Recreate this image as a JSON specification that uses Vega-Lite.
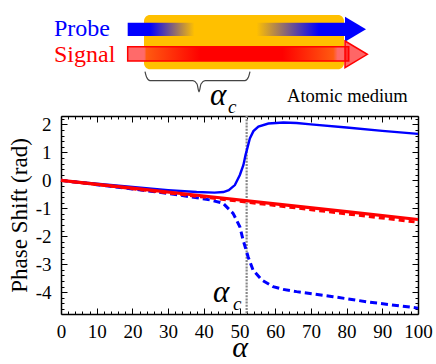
{
  "$schema": "https://vega.github.io/schema/vega-lite/v6.json",
  "width": 357,
  "height": 198,
  "autosize": "none",
  "padding": {"left": 61, "top": 116, "right": 18, "bottom": 50},
  "config": {
    "view": {"stroke": null},
    "font": "Liberation Serif",
    "text": {"font": "Liberation Serif"},
    "axis": {
      "grid": false,
      "domainColor": "black",
      "domainWidth": 1.5,
      "tickColor": "black",
      "tickWidth": 1,
      "labelFont": "Liberation Serif",
      "labelFontSize": 19,
      "labelColor": "black",
      "titleFont": "Liberation Serif",
      "titleColor": "black",
      "titleFontWeight": "normal",
      "labelFlush": false,
      "labelOverlap": false
    }
  },
  "datasets": {
    "curves": [
      {"series": "probe", "alpha": 0, "phase": 0},
      {"series": "probe", "alpha": 10, "phase": -0.12},
      {"series": "probe", "alpha": 20, "phase": -0.24},
      {"series": "probe", "alpha": 30, "phase": -0.35},
      {"series": "probe", "alpha": 38, "phase": -0.42},
      {"series": "probe", "alpha": 43, "phase": -0.44},
      {"series": "probe", "alpha": 45.5, "phase": -0.42},
      {"series": "probe", "alpha": 47, "phase": -0.35},
      {"series": "probe", "alpha": 48.7, "phase": -0.17},
      {"series": "probe", "alpha": 50.1, "phase": 0.19},
      {"series": "probe", "alpha": 51.1, "phase": 0.55},
      {"series": "probe", "alpha": 51.7, "phase": 0.91},
      {"series": "probe", "alpha": 52.2, "phase": 1.15},
      {"series": "probe", "alpha": 52.9, "phase": 1.5},
      {"series": "probe", "alpha": 53.9, "phase": 1.76},
      {"series": "probe", "alpha": 55.3, "phase": 1.92},
      {"series": "probe", "alpha": 58.1, "phase": 2.03},
      {"series": "probe", "alpha": 62.3, "phase": 2.07},
      {"series": "probe", "alpha": 66, "phase": 2.05},
      {"series": "probe", "alpha": 70, "phase": 2.0},
      {"series": "probe", "alpha": 80, "phase": 1.89},
      {"series": "probe", "alpha": 90, "phase": 1.77},
      {"series": "probe", "alpha": 100, "phase": 1.66},
      {"series": "probeDashed", "alpha": 0, "phase": 0},
      {"series": "probeDashed", "alpha": 10, "phase": -0.155},
      {"series": "probeDashed", "alpha": 20, "phase": -0.31},
      {"series": "probeDashed", "alpha": 30, "phase": -0.47},
      {"series": "probeDashed", "alpha": 36.1, "phase": -0.585},
      {"series": "probeDashed", "alpha": 41.7, "phase": -0.7},
      {"series": "probeDashed", "alpha": 45.4, "phase": -0.82},
      {"series": "probeDashed", "alpha": 48.2, "phase": -1.18},
      {"series": "probeDashed", "alpha": 50.1, "phase": -1.66},
      {"series": "probeDashed", "alpha": 51.0, "phase": -2.13},
      {"series": "probeDashed", "alpha": 52.4, "phase": -2.73},
      {"series": "probeDashed", "alpha": 53.8, "phase": -3.21},
      {"series": "probeDashed", "alpha": 56.2, "phase": -3.56},
      {"series": "probeDashed", "alpha": 59.4, "phase": -3.8},
      {"series": "probeDashed", "alpha": 62.2, "phase": -3.9},
      {"series": "probeDashed", "alpha": 66, "phase": -3.98},
      {"series": "probeDashed", "alpha": 76.2, "phase": -4.16},
      {"series": "probeDashed", "alpha": 85.5, "phase": -4.34},
      {"series": "probeDashed", "alpha": 100, "phase": -4.57},
      {"series": "signal", "alpha": 0, "phase": 0},
      {"series": "signal", "alpha": 20, "phase": -0.28},
      {"series": "signal", "alpha": 40, "phase": -0.56},
      {"series": "signal", "alpha": 60, "phase": -0.84},
      {"series": "signal", "alpha": 80, "phase": -1.12},
      {"series": "signal", "alpha": 100, "phase": -1.4},
      {"series": "signalDashed", "alpha": 0, "phase": 0},
      {"series": "signalDashed", "alpha": 20, "phase": -0.3},
      {"series": "signalDashed", "alpha": 40, "phase": -0.6},
      {"series": "signalDashed", "alpha": 60, "phase": -0.9},
      {"series": "signalDashed", "alpha": 80, "phase": -1.2},
      {"series": "signalDashed", "alpha": 100, "phase": -1.5}
    ]
  },
  "resolve": {"axis": {"x": "independent", "y": "independent"}},
  "layer": [
    {
      "data": {"values": [{"x1": 23.25, "x2": 79.27, "y1": 5.91, "y2": 3.97}]},
      "mark": {"type": "rect", "color": "#FFC000", "cornerRadius": 6},
      "encoding": {
        "x": {"field": "x1", "type": "quantitative", "axis": null, "scale": {"domain": [0, 100], "nice": false}},
        "x2": {"field": "x2"},
        "y": {"field": "y1", "type": "quantitative", "axis": null, "scale": {"domain": [-4.78, 2.3], "nice": false, "zero": false}},
        "y2": {"field": "y2"}
      }
    },
    {
      "data": {"values": [{"x1": 18.68, "x2": 80.95, "y1": 5.636, "y2": 5.16}]},
      "mark": {
        "type": "rect",
        "fill": {
          "gradient": "linear", "x1": 0, "y1": 0, "x2": 1, "y2": 0,
          "stops": [
            {"offset": 0, "color": "#0000FF"},
            {"offset": 0.1, "color": "#0000FF"},
            {"offset": 0.3, "color": "#FFC000"},
            {"offset": 0.58, "color": "#FFC000"},
            {"offset": 0.86, "color": "#0000FF"},
            {"offset": 1, "color": "#0000FF"}
          ]
        }
      },
      "encoding": {
        "x": {"field": "x1", "type": "quantitative", "axis": null},
        "x2": {"field": "x2"},
        "y": {"field": "y1", "type": "quantitative", "axis": null},
        "y2": {"field": "y2"}
      }
    },
    {
      "data": {"values": [{"x": 82.49, "y": 5.403}]},
      "mark": {"type": "point", "filled": true, "fill": "#0000FF", "stroke": null, "opacity": 1, "shape": "M-0.84,-1L0.84,0L-0.84,1Z", "size": 625},
      "encoding": {
        "x": {"field": "x", "type": "quantitative", "axis": null},
        "y": {"field": "y", "type": "quantitative", "axis": null}
      }
    },
    {
      "data": {"values": [{"x1": 18.68, "x2": 80.6, "y1": 4.778, "y2": 4.266}]},
      "mark": {
        "type": "rect",
        "stroke": "#FF0000",
        "strokeWidth": 1.5,
        "fill": {
          "gradient": "linear", "x1": 0, "y1": 0, "x2": 1, "y2": 0,
          "stops": [
            {"offset": 0, "color": "#FF6A6A"},
            {"offset": 0.075, "color": "#FF6A6A"},
            {"offset": 0.085, "color": "#FF5A10"},
            {"offset": 0.33, "color": "#FF0000"},
            {"offset": 0.7, "color": "#FF0000"},
            {"offset": 0.93, "color": "#FF5A10"},
            {"offset": 0.95, "color": "#FF6A6A"},
            {"offset": 1, "color": "#FF6A6A"}
          ]
        }
      },
      "encoding": {
        "x": {"field": "x1", "type": "quantitative", "axis": null},
        "x2": {"field": "x2"},
        "y": {"field": "y1", "type": "quantitative", "axis": null},
        "y2": {"field": "y2"}
      }
    },
    {
      "data": {"values": [{"x": 82.68, "y": 4.504}]},
      "mark": {"type": "point", "filled": true, "fill": "#FF0000", "fillOpacity": 0.6, "stroke": "#FF0000", "strokeWidth": 1.5, "opacity": 1, "shape": "M-0.835,-1L0.835,0L-0.835,1Z", "size": 713},
      "encoding": {
        "x": {"field": "x", "type": "quantitative", "axis": null},
        "y": {"field": "y", "type": "quantitative", "axis": null}
      }
    },
    {
      "data": {"values": [
        {"x": 23.53, "y": 3.884},
        {"x": 23.95, "y": 3.694},
        {"x": 24.93, "y": 3.562},
        {"x": 36.97, "y": 3.562},
        {"x": 38.1, "y": 3.444},
        {"x": 38.66, "y": 3.169},
        {"x": 39.22, "y": 3.444},
        {"x": 40.34, "y": 3.562},
        {"x": 51.54, "y": 3.562},
        {"x": 52.52, "y": 3.694},
        {"x": 52.94, "y": 3.884}
      ]},
      "mark": {"type": "line", "color": "#444444", "strokeWidth": 1.2, "interpolate": "monotone"},
      "encoding": {
        "x": {"field": "x", "type": "quantitative", "axis": null},
        "y": {"field": "y", "type": "quantitative", "axis": null}
      }
    },
    {
      "data": {"values": [{"label": "Probe", "x": -1.96, "y": 5.16}]},
      "mark": {"type": "text", "font": "Liberation Serif", "fontSize": 24, "color": "#0000FF", "align": "left", "baseline": "alphabetic"},
      "encoding": {
        "x": {"field": "x", "type": "quantitative", "axis": null},
        "y": {"field": "y", "type": "quantitative", "axis": null},
        "text": {"field": "label"}
      }
    },
    {
      "data": {"values": [{"label": "Signal", "x": -1.96, "y": 4.22}]},
      "mark": {"type": "text", "font": "Liberation Serif", "fontSize": 24, "color": "#FF0000", "align": "left", "baseline": "alphabetic"},
      "encoding": {
        "x": {"field": "x", "type": "quantitative", "axis": null},
        "y": {"field": "y", "type": "quantitative", "axis": null},
        "text": {"field": "label"}
      }
    },
    {
      "data": {"values": [{"label": "Atomic medium", "x": 63.31, "y": 2.811}]},
      "mark": {"type": "text", "font": "Liberation Serif", "fontSize": 18.5, "color": "black", "align": "left", "baseline": "alphabetic"},
      "encoding": {
        "x": {"field": "x", "type": "quantitative", "axis": null},
        "y": {"field": "y", "type": "quantitative", "axis": null},
        "text": {"field": "label"}
      }
    },
    {
      "data": {"values": [{"label": "α", "x": 41.74, "y": 2.693}, {"label": "α", "x": 42.58, "y": -4.339}]},
      "mark": {"type": "text", "font": "Liberation Serif", "fontSize": 31, "fontStyle": "italic", "color": "black", "align": "left", "baseline": "alphabetic"},
      "encoding": {
        "x": {"field": "x", "type": "quantitative", "axis": null},
        "y": {"field": "y", "type": "quantitative", "axis": null},
        "text": {"field": "label"}
      }
    },
    {
      "data": {"values": [{"label": "c", "x": 46.78, "y": 2.397}, {"label": "c", "x": 48.18, "y": -4.636}]},
      "mark": {"type": "text", "font": "Liberation Serif", "fontSize": 19, "fontStyle": "italic", "color": "black", "align": "left", "baseline": "alphabetic"},
      "encoding": {
        "x": {"field": "x", "type": "quantitative", "axis": null},
        "y": {"field": "y", "type": "quantitative", "axis": null},
        "text": {"field": "label"}
      }
    },
    {
      "data": {"values": [{"alpha": 52}]},
      "mark": {"type": "rule", "color": "#888888", "strokeWidth": 2.2, "strokeDash": [2, 1.2]},
      "encoding": {
        "x": {"field": "alpha", "type": "quantitative", "axis": null}
      }
    },
    {
      "data": {"name": "curves"},
      "transform": [{"filter": "datum.series === 'probeDashed'"}],
      "mark": {"type": "line", "color": "#0000FF", "strokeWidth": 3, "strokeDash": [7, 4]},
      "encoding": {
        "x": {"field": "alpha", "type": "quantitative", "axis": {"orient": "bottom", "values": [2,4,6,8,12,14,16,18,22,24,26,28,32,34,36,38,42,44,46,48,52,54,56,58,62,64,66,68,72,74,76,78,82,84,86,88,92,94,96,98], "tickSize": -3, "labels": false, "domain": false, "title": null}},
        "y": {"field": "phase", "type": "quantitative", "axis": {"orient": "left", "values": [-4.6,-4.4,-4.2,-3.8,-3.6,-3.4,-3.2,-2.8,-2.6,-2.4,-2.2,-1.8,-1.6,-1.4,-1.2,-0.8,-0.6,-0.4,-0.2,0.2,0.4,0.6,0.8,1.2,1.4,1.6,1.8,2.2], "tickSize": -3, "labels": false, "domain": false, "title": null}}
      }
    },
    {
      "data": {"name": "curves"},
      "transform": [{"filter": "datum.series === 'signalDashed'"}],
      "mark": {"type": "line", "color": "#FF0000", "strokeWidth": 3, "strokeDash": [6, 4]},
      "encoding": {
        "x": {"field": "alpha", "type": "quantitative", "axis": {"orient": "top", "values": [2,4,6,8,12,14,16,18,22,24,26,28,32,34,36,38,42,44,46,48,52,54,56,58,62,64,66,68,72,74,76,78,82,84,86,88,92,94,96,98], "tickSize": -3, "labels": false, "domain": false, "title": null}},
        "y": {"field": "phase", "type": "quantitative", "axis": {"orient": "right", "values": [-4.6,-4.4,-4.2,-3.8,-3.6,-3.4,-3.2,-2.8,-2.6,-2.4,-2.2,-1.8,-1.6,-1.4,-1.2,-0.8,-0.6,-0.4,-0.2,0.2,0.4,0.6,0.8,1.2,1.4,1.6,1.8,2.2], "tickSize": -3, "labels": false, "domain": false, "title": null}}
      }
    },
    {
      "data": {"name": "curves"},
      "transform": [{"filter": "datum.series === 'probe'"}],
      "mark": {"type": "line", "color": "#0000FF", "strokeWidth": 2.4},
      "encoding": {
        "x": {"field": "alpha", "type": "quantitative", "axis": {"orient": "bottom", "values": [0,10,20,30,40,50,60,70,80,90,100], "tickSize": -6, "labelPadding": 14, "title": "α", "titleFontSize": 30, "titleFontStyle": "italic", "titleBaseline": "alphabetic", "titlePadding": 15}},
        "y": {"field": "phase", "type": "quantitative", "axis": {"orient": "left", "values": [-4,-3,-2,-1,0,1,2], "tickSize": -6, "labelPadding": 16, "labelExpr": "'' + datum.value", "title": "Phase Shift (rad)", "titleFontSize": 23, "titlePadding": 4}}
      }
    },
    {
      "data": {"name": "curves"},
      "transform": [{"filter": "datum.series === 'signal'"}],
      "mark": {"type": "line", "color": "#FF0000", "strokeWidth": 3.2},
      "encoding": {
        "x": {"field": "alpha", "type": "quantitative", "axis": {"orient": "top", "values": [0,10,20,30,40,50,60,70,80,90,100], "tickSize": -6, "labels": false, "title": null}},
        "y": {"field": "phase", "type": "quantitative", "axis": {"orient": "right", "values": [-4,-3,-2,-1,0,1,2], "tickSize": -6, "labels": false, "title": null}}
      }
    }
  ]
}
